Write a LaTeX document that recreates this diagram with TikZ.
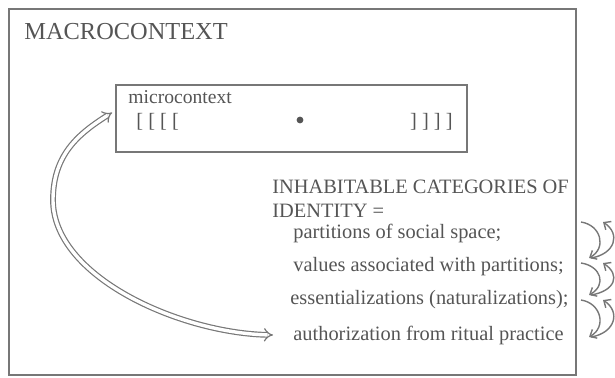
\documentclass[tikz,border=0pt]{standalone}
\usepackage{fontspec}
\setmainfont{Liberation Serif}
\usetikzlibrary{arrows.meta,positioning}
\definecolor{inkgrey}{HTML}{555555}
\definecolor{framegrey}{HTML}{777777}
\tikzset{
  frame/.style={draw=framegrey, line width=0.9pt, inner sep=0pt},
  txt/.style={anchor=base west, inner sep=0pt, text=inkgrey,
              font=\fontsize{10.2}{12}\selectfont},
  dbl/.style={{Implies[length=3.2pt]}-{Implies[length=3.2pt]}, double=white,
              double distance=1.7pt, line width=0.6pt, draw=framegrey},
  curl/.style={-{Straight Barb[length=2.8pt,width=5pt]}, line width=0.7pt,
               draw=framegrey},
}

\begin{document}
\begin{tikzpicture}[x=0.5pt,y=0.5pt]
\useasboundingbox (0,0) rectangle (615,377);

\node[frame, minimum width=283.5pt, minimum height=183pt] (macro) at (292.5,185) {};
\node[txt, font=\fontsize{12.2}{14}\selectfont] (macrolbl) at (24,338) {MACROCONTEXT};

% inner box
\node[frame, minimum width=175.5pt, minimum height=33.5pt] (micro) at (291.5,258.5) {};
\node[txt, font=\fontsize{9.8}{12}\selectfont] (microlbl) at (128,274) {microcontext};
\node[txt] (lbr) at (136,250) {[ [ [ [};
\node[txt, anchor=base east] (rbr) at (453,250) {] ] ] ]};
\node[circle, fill=inkgrey, inner sep=0pt, minimum size=3.4pt] (dot) at (300,257) {};

% categories
\node[txt] (cat1) at (272,184) {INHABITABLE CATEGORIES OF};
\node[txt] (cat2) at (272,160) {IDENTITY =};
\node[txt] (part) at (293,139) {partitions of social space;};
\node[txt] (vals) at (293,106) {values associated with partitions;};
\node[txt] (ess)  at (290,73)  {essentializations (naturalizations);};
\node[txt] (auth) at (293,37)  {authorization from ritual practice};

\coordinate (swing) at (53,177);
\draw[dbl] ([xshift=-10]auth.west) .. controls (180,44) and (53,100) .. (swing)
  .. controls (53,222) and (78,243) .. ([shift={(-3,6)}]micro.west);

\foreach \i/\t/\b in {1/155/119, 2/114/82, 3/77/40}{
  \coordinate (up\i) at (581,\t);
  \coordinate (lo\i) at (581,\b);
  \draw[curl] (up\i) .. controls +(20,-3) and +(18,10) .. ([xshift=4]lo\i);
  \draw[curl] ([xshift=5]lo\i) .. controls +(24,4) and +(18,-12) .. ([xshift=11]up\i);
}
\end{tikzpicture}
\end{document}
